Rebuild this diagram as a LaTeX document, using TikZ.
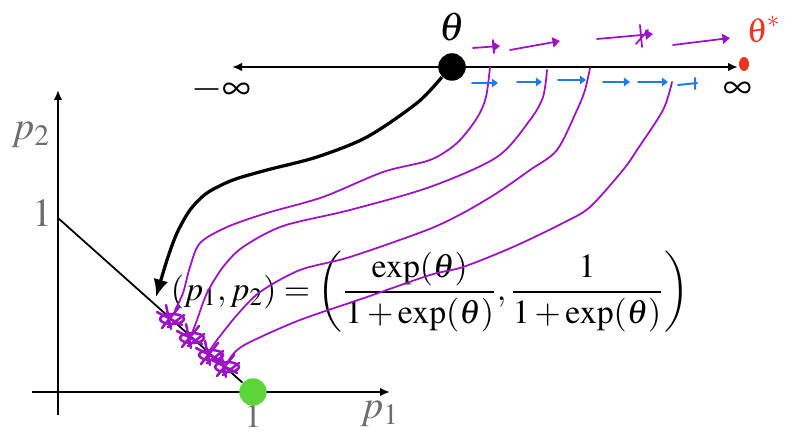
\documentclass[tikz,border=0pt]{standalone}
\usepackage{mathptmx}
\usetikzlibrary{arrows.meta}
\definecolor{pen}{HTML}{A010C8}
\definecolor{ink}{HTML}{1F7AF0}
\definecolor{redink}{HTML}{F0321E}
\definecolor{dotgreen}{HTML}{5CD53A}
\definecolor{labelgray}{HTML}{6E6E6E}

\begin{document}
\begin{tikzpicture}[x=0.4pt,y=-0.4pt,
  every node/.style={font=\fontsize{13.5}{16}\selectfont},
  big/.style={font=\fontsize{16}{18}\selectfont},
  axis/.style={line width=0.8pt,-{Latex[length=4pt,width=3.4pt]}},
  lbl/.style={big,text=labelgray},
  ball/.style={circle,fill,inner sep=0pt,minimum size=11pt},
  pencurve/.style={draw=pen,line width=0.7pt,line cap=round,line join=round},
  penarrow/.style={pencurve,-{Triangle[length=3pt,width=4pt]}},
  bluearrow/.style={draw=ink,line width=0.8pt,line cap=round,-{Triangle[length=2.5pt,width=3.5pt]}}]
  \useasboundingbox (0,0) rectangle (785,431);
  \coordinate (minf) at (232,67);
  \coordinate (pinf) at (738,67);
  \draw[line width=0.8pt,{Latex[length=4pt,width=3.4pt]}-{Latex[length=4pt,width=3.4pt]}] (minf) -- (pinf);
  \node[ball] (theta) at (452,67) {};
  \node[big] (thlab) at (452,27) {$\theta$};
  \node[big] (mlab) at (221,90) {$-\infty$};
  \node[big] (plab) at (738,90) {$\infty$};
  \fill[redink] (744,64) ellipse (5 and 7);
  \node[text=redink,rotate=8] (star) at (764,30) {$\theta^*$};
  \coordinate (ybot) at (58,415);
  \coordinate (ytop) at (58,90);
  \coordinate (xl) at (32,392);
  \coordinate (xr) at (390,392);
  \draw[axis] (ybot) -- (ytop);
  \draw[axis] (xl) -- (xr);
  \node[lbl] (p2) at (31,135) {$p_2$};
  \node[lbl] (y1) at (42,213) {$1$};
  \node[lbl] (p1) at (380,414) {$p_1$};
  \coordinate (e2) at (58,218);
  \node[text=labelgray] (x1) at (253,416) {$1$};
  \node[ball,fill=dotgreen] (q) at (253,392) {};
  \draw[line width=0.7pt] (e2) -- (q);
  \node (eq) at (430,292) {$\displaystyle (p_1,p_2)=\left(\frac{\exp(\theta)}{1+\exp(\theta)},\frac{1}{1+\exp(\theta)}\right)$};
  \draw[line width=1.3pt,-{Latex[length=7pt,width=6pt]}] plot[smooth] coordinates {(theta.south west) (417,103) (367,137) (317,157) (267,170) (233,180) (207,193) (190,210) (177,233) (167,260) (156,297)};
  \draw[pencurve] plot[smooth] coordinates {(490,67) (486,97) (477,118) (457,143) (430,160) (383,172) (323,197) (267,213) (227,227) (200,243) (190,267) (183,293) (175,310)};
  \draw[pencurve] plot[smooth] coordinates {(547,70) (543,97) (530,120) (497,157) (430,187) (350,210) (283,226) (243,247) (223,267) (207,293) (197,320) (192,333)};
  \draw[pencurve] plot[smooth] coordinates {(590,68) (585,90) (577,110) (557,150) (530,170) (497,193) (463,213) (427,230) (350,257) (300,270) (260,292) (237,315) (217,340) (210,350)};
  \draw[pencurve] plot[smooth] coordinates {(672,82) (663,110) (637,150) (623,170) (590,207) (563,223) (513,247) (463,267) (430,275) (367,297) (300,320) (250,342) (235,352) (227,363)};
  \foreach \px/\py in {170/318, 190/337, 209/354, 225/366}
    \draw[pencurve,line width=1pt] (\px-13,\py-6) -- (\px+12,\py+7) (\px-4,\py-13) -- (\px+1,\py+11)
      (\px+9,\py-11) -- (\px-8,\py+10) (\px-2,\py+9) -- (\px+14,\py-3)
      (\px+2,\py+1) ellipse (12 and 5);
  \draw[penarrow] (473,48) -- (500,46);
  \draw[pencurve] (493,40) -- (494,53);
  \draw[penarrow] (510,50) -- (560,41);
  \draw[penarrow] (597,39) -- (653,34);
  \draw[pencurve] (640,25) -- (642,47) (636,44) -- (648,30);
  \draw[penarrow] (673,45) -- (730,38);
  \draw[bluearrow] (472,83) -- (498,83);
  \draw[bluearrow] (517,82) -- (542,82);
  \draw[bluearrow] (558,80) -- (586,80);
  \draw[bluearrow] (603,82) -- (630,82);
  \draw[bluearrow] (638,82) -- (668,82);
  \draw[draw=ink,line width=0.8pt,line cap=round] (678,85) -- (697,83) (695,78) -- (695,89);
\end{tikzpicture}
\end{document}
